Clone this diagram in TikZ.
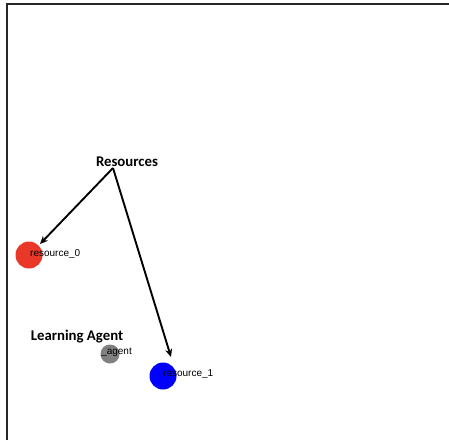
\documentclass[tikz,border=0pt]{standalone}
\usepackage{fontspec}
\setmainfont{Liberation Sans}
\newfontfamily\headfont{Carlito}
\usetikzlibrary{arrows.meta}
\definecolor{resred}{RGB}{234,56,40}
\tikzset{x=1pt, y=-1pt, % Work in pixel-like units, y pointing down
every dot/.style={ % Sets the properties for each resource or agent
circle, inner sep=0pt},
dotlabel/.style={ % Small name next to each dot
anchor=west, inner sep=0pt, font=\fontsize{10}{12}\selectfont},
head/.style={ % Bold group titles
inner sep=0pt, font=\headfont\bfseries\fontsize{14.8}{17}\selectfont},
link/.style={ % Arrows from the title to the resources
draw, line width=1.9pt, -{Stealth[length=8pt, width=7pt]}}}

\begin{document}
\begin{tikzpicture}

    \useasboundingbox (0,0) rectangle (449,440);
    \draw[line width=2pt, black!85] (7,440) -- (7,4) -- (449,4);

    \node[head] (resources) at (127,162) {Resources};
    \coordinate (hub) at (113,168);
    \node[head] (learning) at (77,337) {Learning Agent};

    \node[every dot, fill=resred, minimum size=27pt] (res0) at (29,255) {};
    \node[every dot, fill=blue, minimum size=27pt] (res1) at (163,376) {};
    \node[every dot, fill=gray, minimum size=19pt] (agent) at (110,354) {};

    \node[dotlabel] (res0lbl) at (30,253.5) {resource\_0};
    \node[dotlabel] (res1lbl) at (163,374.5) {resource\_1};
    \node[dotlabel] (agentlbl) at (101,352.5) {\_agent};

    \coordinate (tip0) at (40,244);
    \coordinate (tip1) at (171,357);
    \draw[link] (hub) -- (tip0);
    \draw[link] (hub) -- (tip1);

\end{tikzpicture}
\end{document}
